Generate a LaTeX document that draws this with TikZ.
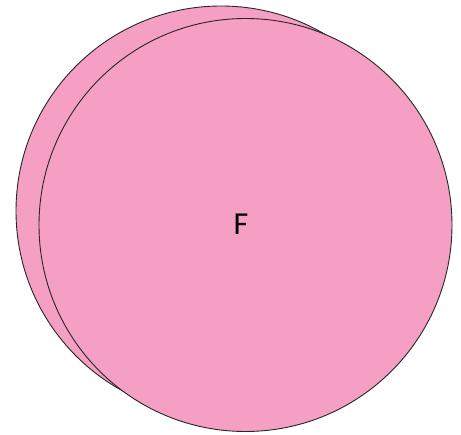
\documentclass[tikz,border=0pt]{standalone}
\usepackage{fontspec}
\setmainfont{Carlito}
\definecolor{pinkfill}{RGB}{245,159,196}
\begin{document}
\begin{tikzpicture}[x=1pt,y=-1pt,
  disc/.style={circle,draw=black!85,line width=0.9pt,fill=pinkfill,inner sep=0pt}]
\useasboundingbox (0,0) rectangle (461,435);
\node[disc,minimum size=410pt] (back) at (221,211) {};
\node[disc,minimum size=413pt] (front) at (245.5,225) {};
\node[font=\fontsize{32}{36}\selectfont] (label) at (241,224) {F};
\end{tikzpicture}
\end{document}
